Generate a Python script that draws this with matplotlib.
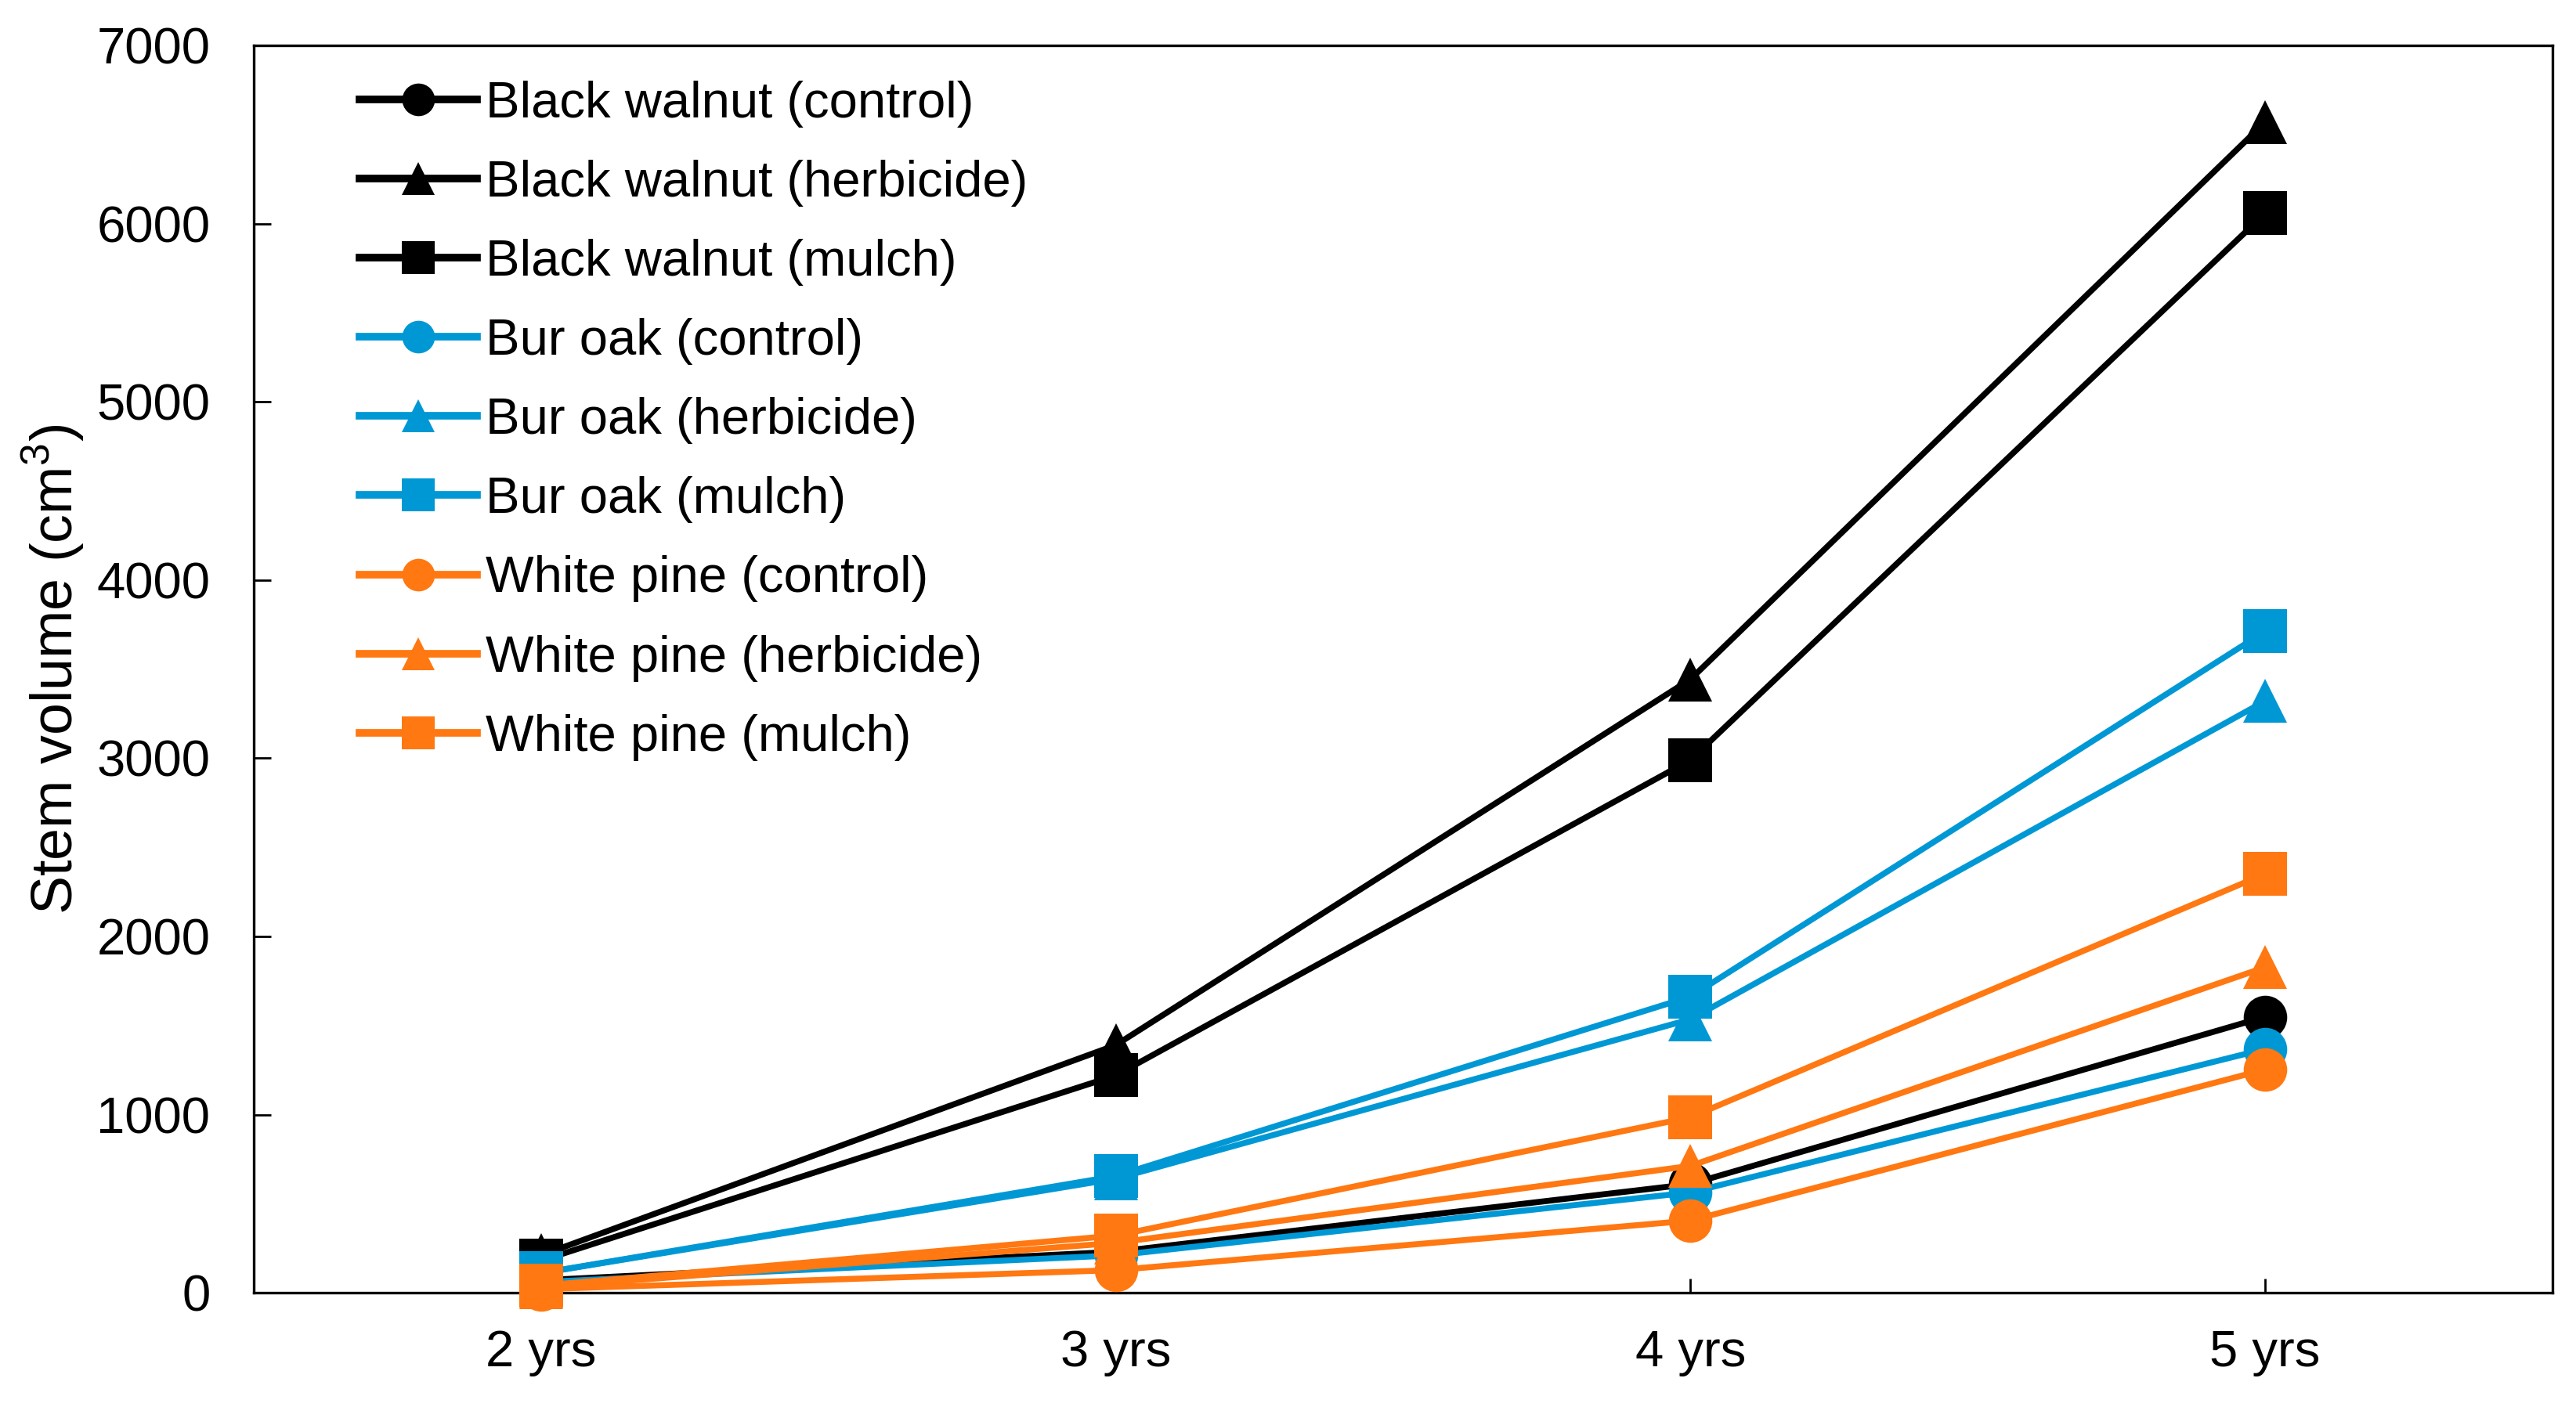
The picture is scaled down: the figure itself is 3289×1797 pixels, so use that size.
import matplotlib

matplotlib.use("Agg")

import matplotlib.pyplot as plt

# 数据：各处理在不同年龄的平均树干体积 (cm3)
years = ["2 yrs", "3 yrs", "4 yrs", "5 yrs"]

black_walnut_control = [70, 230, 610, 1549]
black_walnut_herbicide = [210, 1390, 3443, 6570]
black_walnut_mulch = [180, 1220, 2990, 6058]

bur_oak_control = [60, 210, 563, 1368]
bur_oak_herbicide = [110, 640, 1535, 3321]
bur_oak_mulch = [110, 655, 1662, 3712]

white_pine_control = [20, 127, 405, 1253]
white_pine_herbicide = [30, 280, 712, 1827]
white_pine_mulch = [40, 321, 985, 2351]

y_ticks = [0, 1000, 2000, 3000, 4000, 5000, 6000, 7000]

BLACK = "#000000"
BLUE = "#0098D4"
ORANGE = "#FF7811"

plt.rcParams["font.family"] = ["Liberation Sans", "DejaVu Sans"]
plt.rcParams["mathtext.fontset"] = "custom"
plt.rcParams["mathtext.rm"] = "Liberation Sans"


def main():
    series = [
        ("Black walnut (control)", black_walnut_control, BLACK, "o"),
        ("Black walnut (herbicide)", black_walnut_herbicide, BLACK, "^"),
        ("Black walnut (mulch)", black_walnut_mulch, BLACK, "s"),
        ("Bur oak (control)", bur_oak_control, BLUE, "o"),
        ("Bur oak (herbicide)", bur_oak_herbicide, BLUE, "^"),
        ("Bur oak (mulch)", bur_oak_mulch, BLUE, "s"),
        ("White pine (control)", white_pine_control, ORANGE, "o"),
        ("White pine (herbicide)", white_pine_herbicide, ORANGE, "^"),
        ("White pine (mulch)", white_pine_mulch, ORANGE, "s"),
    ]

    fig = plt.figure(figsize=(32.89, 17.97), dpi=100)
    ax = fig.add_axes([0.0985, 0.0812, 0.8924, 0.8865])

    x = list(range(len(years)))
    for label, values, color, marker in series:
        ax.plot(
            x,
            values,
            color=color,
            linewidth=5.5,
            marker=marker,
            markersize=40,
            markeredgewidth=0,
            label=label,
            clip_on=False,
        )

    ax.set_xlim(-0.5, len(years) - 0.5)
    ax.set_ylim(0, 7000)
    ax.set_xticks(x)
    ax.set_xticklabels(years)
    ax.set_yticks(y_ticks)

    ax.tick_params(axis="both", direction="in", labelsize=47, width=2, colors="black")
    ax.tick_params(axis="y", length=16, pad=40)
    ax.tick_params(axis="x", length=13, pad=34)
    for spine in ax.spines.values():
        spine.set_linewidth(2.4)
        spine.set_color("black")
        spine.set_zorder(1)

    ax.set_ylabel("Stem volume (cm$^3$)", fontsize=53)
    ax.yaxis.set_label_coords(-0.073, 0.5)

    leg = ax.legend(
        loc="upper left",
        bbox_to_anchor=(0.046, 0.972),
        frameon=False,
        fontsize=47,
        handlelength=2.3,
        handletextpad=0.17,
        labelspacing=0.63,
        markerscale=0.75,
        borderaxespad=0,
        borderpad=0,
    )
    for line in leg.get_lines():
        line.set_linewidth(7)

    fig.savefig("out.png", dpi=100)
    plt.close(fig)


if __name__ == "__main__":
    main()
